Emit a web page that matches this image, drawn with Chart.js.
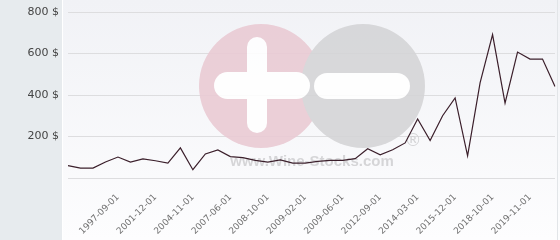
<!DOCTYPE html>
<html>
<head>
<meta charset="utf-8">
<script src="https://cdn.jsdelivr.net/npm/chart.js@4"></script>
<style>
  body { margin: 0; background: #ffffff; }
  #chart { display: block; }
</style>
</head>
<body>
<canvas id="chart" width="560" height="240"></canvas>
<script>
// prices, one per point ($)
const prices = [60, 48, 48, 77, 101, 77, 92, 83, 72, 145,
                40, 116, 135, 103, 98, 85, 77, 87, 72, 72,
                80, 85, 85, 93, 141, 112, 136, 169, 284, 181,
                300, 386, 107, 458, 691, 361, 607, 573, 573, 441];

// dates that are written under the axis (every 3rd point, from point 4)
const tickLabels = ['1997-09-01', '2001-12-01', '2004-11-01', '2007-06-01',
                    '2008-10-01', '2009-02-01', '2009-06-01', '2012-09-01',
                    '2014-03-01', '2015-12-01', '2018-10-01', '2019-11-01'];
const firstTick = 4;
const tickStep = 3;

const yTicks = [0, 200, 400, 600, 800];

const categories = prices.map(function (p, i) {
    const k = (i - firstTick) / tickStep;
    if (Number.isInteger(k) && k >= 0 && k < tickLabels.length) {
        return tickLabels[k];
    }
    return '';
});

// panels behind the chart
const backgroundPlugin = {
    id: 'panels',
    beforeDraw: function (chart) {
        const c = chart.ctx;
        c.save();
        c.fillStyle = '#e7ebee';
        c.fillRect(0, 0, 62, chart.height);
        const g = c.createLinearGradient(0, 0, 0, chart.height);
        g.addColorStop(0, '#f1f2f6');
        g.addColorStop(1, '#fdfdfe');
        c.fillStyle = g;
        c.fillRect(63, 0, chart.width - 63, chart.height);
        c.fillStyle = '#ffffff';
        c.fillRect(62, 0, 1, chart.height);
        c.fillStyle = '#e2e5e8';
        c.fillRect(557, 0, 1, chart.height);
        c.restore();
    }
};

function bar(c, x, y, w, h) {
    c.beginPath();
    c.roundRect(x, y, w, h, Math.min(w, h) / 2);
    c.fill();
}

// wine-stocks watermark, drawn over the grid and under the line
const watermarkPlugin = {
    id: 'watermark',
    beforeDatasetsDraw: function (chart) {
        const off = document.createElement('canvas');
        off.width = chart.width;
        off.height = chart.height;
        const c = off.getContext('2d');
        c.fillStyle = '#eacbd4';
        c.beginPath();
        c.arc(261, 86, 62, 0, Math.PI * 2);
        c.fill();
        c.fillStyle = '#d5d5d7';
        c.beginPath();
        c.arc(363, 86, 62, 0, Math.PI * 2);
        c.fill();
        c.fillStyle = '#ffffff';
        bar(c, 247, 37, 20, 96);
        bar(c, 214, 72, 96, 27);
        bar(c, 314, 73, 96, 26);
        c.fillStyle = '#d2d2d4';
        c.font = 'bold 15px "Liberation Sans"';
        c.textAlign = 'center';
        c.textBaseline = 'alphabetic';
        c.fillText('www.Wine-Stocks.com', 312, 166);
        c.fillStyle = '#d0d0d2';
        c.font = '17px "DejaVu Sans"';
        c.fillText('\u00ae', 413, 146);
        const ctx = chart.ctx;
        ctx.save();
        ctx.globalAlpha = 0.9;
        ctx.drawImage(off, 0, 0);
        ctx.restore();
    }
};

new Chart(document.getElementById('chart'), {
    type: 'line',
    data: {
        labels: categories,
        datasets: [{
            label: 'Price',
            data: prices,
            borderColor: '#3b1f2b',
            borderWidth: 1.2,
            pointRadius: 0,
            tension: 0,
            fill: false
        }]
    },
    options: {
        responsive: false,
        animation: false,
        layout: { padding: { top: 12, right: 5 } },
        plugins: {
            legend: { display: false },
            tooltip: { enabled: false }
        },
        scales: {
            x: {
                grid: { display: false },
                border: { display: false },
                afterFit: function (s) {
                    s.height = 62;
                    s.paddingLeft = 0;
                    s.paddingRight = 0;
                },
                ticks: {
                    autoSkip: false,
                    minRotation: 45,
                    maxRotation: 45,
                    padding: 6,
                    color: '#707070',
                    font: { family: 'DejaVu Sans', size: 9 }
                }
            },
            y: {
                min: yTicks[0],
                max: yTicks[yTicks.length - 1],
                afterFit: function (s) {
                    s.width = 68;
                    s.paddingTop = 0;
                    s.paddingBottom = 0;
                },
                afterBuildTicks: function (s) {
                    s.ticks = yTicks.map(function (v) { return { value: v }; });
                },
                grid: { color: '#dddddf', drawTicks: false },
                border: { display: false },
                ticks: {
                    padding: 9,
                    color: '#444444',
                    font: { family: 'DejaVu Sans', size: 11 },
                    callback: function (v) { return v === 0 ? '' : v + ' $'; }
                }
            }
        }
    },
    plugins: [backgroundPlugin, watermarkPlugin]
});
</script>
</body>
</html>
